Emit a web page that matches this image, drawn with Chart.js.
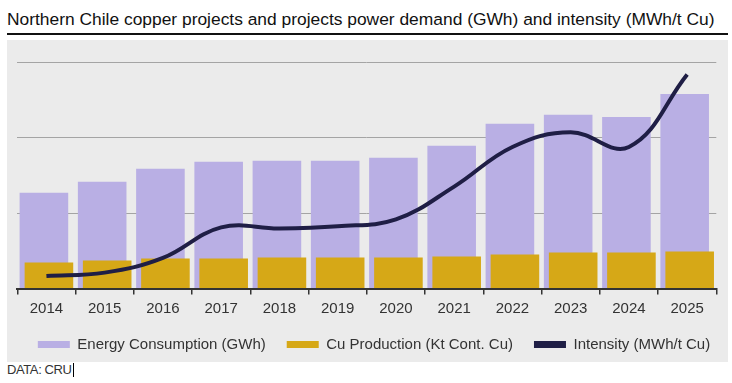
<!DOCTYPE html>
<html>
<head>
<meta charset="utf-8">
<script src="https://cdn.jsdelivr.net/npm/chart.js@4.4.0/dist/chart.umd.min.js"></script>
<style>
  body { margin: 0; width: 732px; height: 383px; background: #fff; position: relative; overflow: hidden; font-family: "Liberation Sans", Arial, sans-serif; }
  #title { position: absolute; left: 7px; top: 9px; font-size: 17.4px; line-height: 20px; color: #111; white-space: nowrap; }
  #rule { position: absolute; left: 7px; top: 33px; width: 721px; height: 2px; background: #111; }
  #panel { position: absolute; left: 7px; top: 40px; width: 721px; height: 322px; background: #ebebeb; }
  #chartBox { position: absolute; left: 0; top: 40px; width: 748px; height: 322px; }
  #source { position: absolute; left: 7px; top: 363px; font-size: 13px; line-height: 14px; color: #333; letter-spacing: -0.4px; padding-right: 1px; border-right: 1px solid #000; }
</style>
</head>
<body>
<div id="title">Northern Chile copper projects and projects power demand (GWh) and intensity (MWh/t Cu)</div>
<div id="rule"></div>
<div id="panel"></div>
<div id="chartBox"><canvas id="myChart"></canvas></div>
<div id="source">DATA: CRU</div>
<script>
const years = ["2014", "2015", "2016", "2017", "2018", "2019", "2020", "2021", "2022", "2023", "2024", "2025"];
const energyGWh = [1269, 1414, 1586, 1678, 1692, 1692, 1731, 1890, 2181, 2300, 2273, 2577];
const copperKt = [344, 370, 396, 396, 410, 410, 410, 423, 449, 476, 476, 489];
const intensity = [3.61, 3.64, 3.77, 4.04, 4.03, 4.05, 4.11, 4.40, 4.75, 4.88, 4.75, 5.39];

const purple = "#b9afe4";
const gold = "#d6a817";
const navy = "#1f1e45";

// purple bars sit behind the gold ones, so draw them first
const drawOrder = {
  id: "drawOrder",
  beforeDatasetsDraw(chart) {
    chart.getDatasetMeta(0).controller.draw();
  },
  beforeDatasetDraw(chart, args) {
    if (args.index === 0) return false;
  }
};

new Chart("myChart", {
  type: "bar",
  data: {
    labels: years,
    datasets: [
      {
        label: "Energy Consumption (GWh)",
        data: energyGWh,
        backgroundColor: purple,
        order: 0
      },
      {
        label: "Cu Production (Kt Cont. Cu)",
        data: copperKt,
        backgroundColor: gold,
        order: 1
      },
      {
        type: "line",
        label: "Intensity (MWh/t Cu)",
        data: intensity,
        yAxisID: "y2",
        borderColor: navy,
        backgroundColor: navy,
        borderWidth: 4,
        pointRadius: 0,
        tension: 0.4,
        order: -1
      }
    ]
  },
  options: {
    responsive: true,
    maintainAspectRatio: false,
    animation: false,
    categoryPercentage: 0.172,
    barPercentage: 9.7,
    layout: { padding: { top: 22, left: 0, right: 0, bottom: 0 } },
    scales: {
      x: {
        afterFit: (s) => { s.height = 27.5; },
        border: { color: "#333", width: 2 },
        grid: { drawOnChartArea: false, color: "#333", lineWidth: 1.5, tickLength: 6 },
        ticks: { color: "#333", padding: 5, font: { family: "Liberation Sans", size: 15 } }
      },
      y: {
        min: 0,
        max: 3000,
        afterFit: (s) => { s.width = 17.3; },
        border: { display: false },
        grid: { color: "#a4a4a4", lineWidth: 1, drawTicks: false },
        ticks: { display: false, stepSize: 1000 }
      },
      y2: {
        position: "right",
        min: 3.5,
        max: 5.5,
        afterFit: (s) => { s.width = 31.7; },
        border: { display: false },
        grid: { display: false },
        ticks: { display: false }
      }
    },
    plugins: {
      tooltip: { enabled: false },
      legend: {
        position: "bottom",
        labels: {
          color: "#333",
          font: { family: "Liberation Sans", size: 15 },
          boxWidth: 32,
          boxHeight: 7,
          padding: 21,
          sort: (a, b) => a.datasetIndex - b.datasetIndex,
          generateLabels: (chart) =>
            Chart.defaults.plugins.legend.labels.generateLabels(chart).map((l) => ({ ...l, lineWidth: 0 }))
        }
      }
    }
  },
  plugins: [drawOrder]
});
</script>
</body>
</html>
